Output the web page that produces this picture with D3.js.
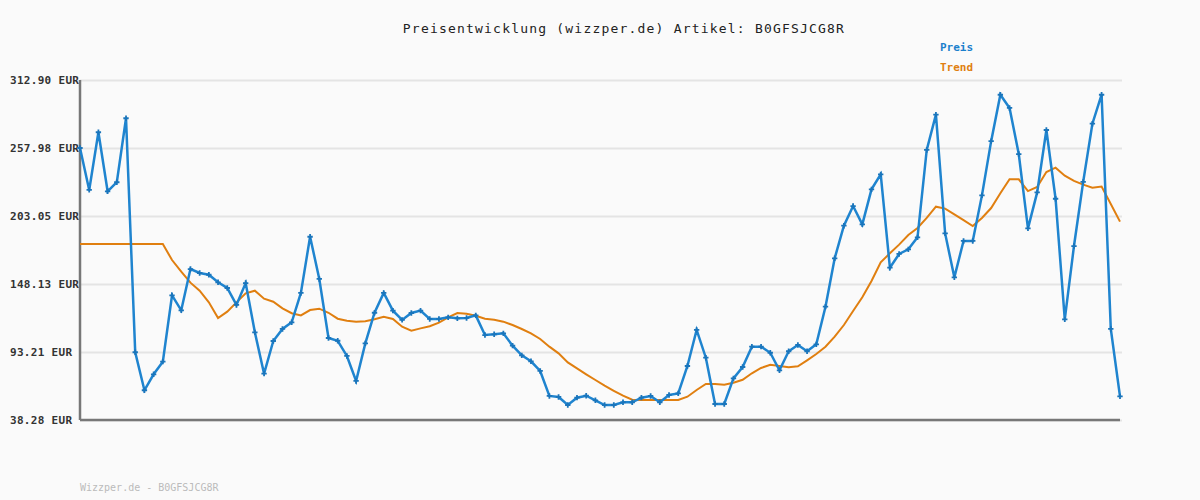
<!DOCTYPE html>
<html>
<head>
<meta charset="utf-8">
<script src="https://cdn.jsdelivr.net/npm/d3@7"></script>
<style>
    body { margin: 0; background: #fafafa; }
    text { font-family: "DejaVu Sans Mono", monospace; }
</style>
</head>
<body>
<div id="chart"></div>
<script>
let title = "Preisentwicklung (wizzper.de) Artikel: B0GFSJCG8R";
let footer = "Wizzper.de - B0GFSJCG8R";
let seriesNames = ["Preis", "Trend"];
let tickValues = [38.28, 93.21, 148.13, 203.05, 257.98, 312.90];
let tickLabels = ["38.28 EUR", "93.21 EUR", "148.13 EUR", "203.05 EUR", "257.98 EUR", "312.90 EUR"];

let preis = [
    257.98, 224.1, 270.7, 223.0, 230.3, 282.0, 93.0, 62.3, 75.2, 85.4,
    139.0, 126.9, 160.2, 157.0, 155.6, 149.5, 144.9, 131.2, 148.9, 109.1,
    75.7, 102.1, 111.8, 117.2, 140.9, 186.3, 152.2, 104.5, 102.3, 90.0,
    69.8, 100.2, 124.9, 140.9, 126.6, 119.1, 124.7, 126.6, 119.9, 119.9,
    121.2, 120.4, 120.7, 122.8, 106.9, 107.5, 108.3, 98.3, 90.5, 85.7,
    77.9, 57.7, 56.9, 50.4, 56.3, 57.9, 54.2, 50.4, 50.4, 52.6,
    52.6, 56.3, 57.7, 52.6, 58.5, 59.8, 81.9, 111.0, 88.6, 51.2,
    51.2, 71.9, 81.1, 97.5, 97.5, 92.6, 78.4, 93.8, 98.9, 93.8,
    99.4, 129.8, 168.9, 195.2, 211.1, 196.3, 224.6, 236.7, 161.3, 172.4,
    176.1, 185.8, 256.4, 284.9, 189.0, 153.5, 182.9, 182.9, 219.7, 263.5,
    301.0, 290.3, 253.1, 193.1, 222.1, 272.5, 217.0, 119.6, 178.8, 230.6,
    277.6, 301.0, 111.8, 57.4
];

let trend = [
    180.4, 180.4, 180.4, 180.4, 180.4, 180.4, 180.4, 180.4, 180.4, 180.4,
    167.5, 158.1, 149.2, 142.7, 133.3, 120.7, 125.8, 133.3, 140.6, 142.7,
    136.3, 133.8, 128.5, 124.5, 122.8, 127.1, 128.2, 124.9, 120.1, 118.5,
    117.7, 118.0, 119.6, 121.7, 119.9, 113.6, 110.4, 112.3, 114.0, 116.9,
    121.2, 124.7, 124.1, 122.5, 120.1, 119.3, 117.7, 115.0, 111.8, 108.3,
    103.7, 97.5, 92.1, 84.8, 80.0, 75.2, 70.6, 66.0, 61.9, 57.9,
    54.7, 54.4, 54.4, 54.4, 54.4, 54.4, 57.1, 62.5, 67.4, 67.4,
    66.8, 68.4, 70.8, 76.0, 80.3, 82.9, 81.9, 80.8, 81.6, 86.5,
    91.6, 97.5, 105.6, 115.0, 126.3, 137.4, 150.5, 165.7, 172.9, 179.9,
    187.7, 193.4, 201.5, 210.6, 209.0, 204.4, 199.8, 195.0, 201.5, 209.5,
    221.4, 232.7, 232.7, 223.2, 226.5, 238.6, 242.1, 235.6, 231.4, 228.4,
    225.9, 226.8, 212.8, 198.5
];

let width = 1200, height = 500;
let margin = {top: 80, right: 80, bottom: 80, left: 80};

let svg = d3.select("#chart")
    .append("svg")
    .attr("width", width)
    .attr("height", height)
    .style("background", "#fafafa");

let xScale = d3.scaleLinear()
    .domain([0, preis.length - 1])
    .range([margin.left, width - margin.right]);

let yScale = d3.scaleLinear()
    .domain([tickValues[0], tickValues[tickValues.length - 1]])
    .range([height - margin.bottom, margin.top]);

// grid lines
let grid = d3.axisLeft(yScale)
    .tickValues(tickValues)
    .tickSize(-(width - margin.left - margin.right + 2))
    .tickFormat("");

svg.append("g")
    .attr("transform", "translate(" + margin.left + ",0)")
    .call(grid)
    .call(g => g.select(".domain").remove())
    .call(g => g.selectAll("line").attr("stroke", "#e4e4e4").attr("stroke-width", 2));

// y labels, left aligned
svg.append("g")
    .selectAll("text")
    .data(tickValues)
    .enter()
    .append("text")
    .text((d, i) => tickLabels[i])
    .attr("x", 10)
    .attr("y", d => yScale(d) + 4)
    .attr("fill", "#333")
    .style("font-size", "11px")
    .style("font-weight", "bold")
    .style("letter-spacing", "0.3px");

// axes lines
svg.append("line")
    .attr("x1", margin.left).attr("x2", margin.left)
    .attr("y1", margin.top).attr("y2", height - margin.bottom)
    .attr("stroke", "#777").attr("stroke-width", 2.5);

svg.append("line")
    .attr("x1", margin.left).attr("x2", width - margin.right)
    .attr("y1", height - margin.bottom).attr("y2", height - margin.bottom)
    .attr("stroke", "#777").attr("stroke-width", 2.5);

let line = d3.line()
    .x((d, i) => xScale(i))
    .y(d => yScale(d));

svg.append("path")
    .datum(trend)
    .attr("d", line)
    .attr("fill", "none")
    .attr("stroke", "#e07f10")
    .attr("stroke-width", 2);

svg.append("path")
    .datum(preis)
    .attr("d", line)
    .attr("fill", "none")
    .attr("stroke", "#1f84cf")
    .attr("stroke-width", 2.5);

svg.append("g")
    .selectAll("path")
    .data(preis)
    .enter()
    .append("path")
    .attr("d", d3.symbol(d3.symbolCross).size(16))
    .attr("transform", (d, i) => "translate(" + xScale(i) + "," + yScale(d) + ")")
    .attr("fill", "#1a75bb");

// title
svg.append("text")
    .text(title)
    .attr("x", 624)
    .attr("y", 33)
    .attr("text-anchor", "middle")
    .attr("fill", "#222")
    .style("font-size", "13px")
    .style("letter-spacing", "1.2px");

// legend
svg.append("text")
    .text(seriesNames[0])
    .attr("x", 940)
    .attr("y", 51)
    .attr("fill", "#1a80cc")
    .style("font-size", "11px")
    .style("font-weight", "bold");

svg.append("text")
    .text(seriesNames[1])
    .attr("x", 940)
    .attr("y", 71)
    .attr("fill", "#e07f10")
    .style("font-size", "11px")
    .style("font-weight", "bold");

// footer
svg.append("text")
    .text(footer)
    .attr("x", 80)
    .attr("y", 491)
    .attr("fill", "#bbb")
    .style("font-size", "10px");
</script>
</body>
</html>
